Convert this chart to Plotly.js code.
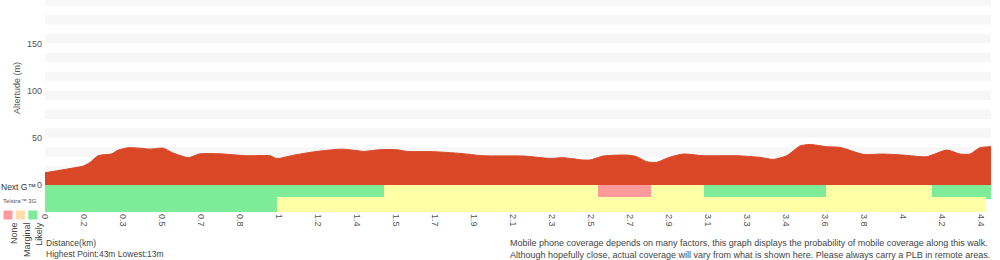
<!DOCTYPE html>
<html>
<head>
<meta charset="utf-8">
<script src="https://cdn.plot.ly/plotly-3.0.1.min.js"></script>
<style>
  html, body { margin: 0; padding: 0; background: #fff; }
  #chart { width: 1000px; height: 260px; }
</style>
</head>
<body>
<div id="chart"></div>
<script>
// ---------- data ----------
const distanceKm = [0.000, 0.055, 0.132, 0.179, 0.211, 0.249, 0.312, 0.343, 0.390, 0.445,
  0.491, 0.554, 0.593, 0.671, 0.725, 0.819, 0.944, 1.053, 1.084, 1.162,
  1.225, 1.287, 1.388, 1.466, 1.489, 1.568, 1.646, 1.693, 1.817, 1.942,
  2.051, 2.238, 2.363, 2.425, 2.519, 2.550, 2.613, 2.722, 2.769, 2.816,
  2.862, 2.917, 2.987, 3.080, 3.237, 3.346, 3.408, 3.471, 3.533, 3.580,
  3.658, 3.720, 3.829, 3.923, 4.016, 4.126, 4.220, 4.282, 4.329, 4.375, 4.427];
const altitudeM = [13, 15, 18, 20, 24, 31, 33, 37, 39.5, 39,
  38, 39, 34.5, 29, 33, 33, 31, 31, 28, 31.5,
  34, 36, 38, 36.3, 35.6, 37.4, 37.4, 35.6, 35.3, 33.5,
  31, 30.7, 28.2, 28.9, 26.5, 26.5, 30.7, 31.7, 30, 24.7,
  24, 29, 32.8, 31, 31, 29.3, 27.2, 31, 41.3, 43,
  40.6, 39.9, 32.5, 32.8, 31.7, 30, 37, 32.8, 32.8, 39.5, 40.6];

const xTickLabels = ['0', '0.2', '0.3', '0.5', '0.7', '0.8', '1', '1.2', '1.4', '1.5', '1.7', '1.9',
  '2.1', '2.3', '2.5', '2.7', '2.9', '3.1', '3.3', '3.4', '3.6', '3.8', '4', '4.2', '4.4'];
const yTickValues = [0, 50, 100, 150];

// coverage segments (km)
const nextGStart = [0.000, 1.586, 2.586, 2.836, 3.084, 3.655, 4.151];
const nextGEnd   = [1.586, 2.586, 2.836, 3.084, 3.655, 4.151, 4.427];
const nextGLevel = ['Likely', 'Marginal', 'None', 'Marginal', 'Likely', 'Marginal', 'Likely'];

const telstra3GStart = [0.000, 1.086];
const telstra3GEnd   = [1.086, 4.403];
const telstra3GLevel = ['Likely', 'Marginal'];

const legendLevels = ['None', 'Marginal', 'Likely'];

// ---------- styling ----------
const W = 1000, H = 260, L = 45, R = 9;
const plotW = W - L - R;
const px = x => (x - L) / plotW;   // pixel -> paper x
const py = y => (H - y) / H;       // pixel -> paper y
const levelColor = { Likely: '#7eeb98', Marginal: '#ffffa6', None: '#ff9a9a' };
const legendColor = { Likely: '#7eeb98', Marginal: '#ffdfa8', None: '#ff9a9a' };
const xMax = 4.427;
const tickStep = 0.1825;
const yTop = 196;
const font = 'Liberation Sans, Arial, Helvetica, sans-serif';

const profile = {
  type: 'scatter', mode: 'lines', x: distanceKm, y: altitudeM,
  xaxis: 'x', yaxis: 'y', fill: 'tozeroy',
  fillcolor: '#d94727', line: { color: '#d94727', width: 1, shape: 'spline', smoothing: 0.6 },
  hoverinfo: 'skip', showlegend: false
};

function coverageTrace(starts, ends, levels, center, height) {
  return {
    type: 'bar', orientation: 'h', xaxis: 'x', yaxis: 'y2',
    base: starts, x: ends.map((e, i) => e - starts[i]),
    y: starts.map(() => center), width: starts.map(() => height),
    marker: { color: levels.map(l => levelColor[l]), line: { width: 0 } },
    hoverinfo: 'skip', showlegend: false
  };
}
const nextG = coverageTrace(nextGStart, nextGEnd, nextGLevel, 20, 14);
const g3 = coverageTrace(telstra3GStart, telstra3GEnd, telstra3GLevel, 7.5, 15);

const shapes = [];
for (let b = 10; b < yTop; b += 20) {
  shapes.push({ type: 'rect', layer: 'below', xref: 'paper', yref: 'y',
    x0: 0, x1: 1, y0: b, y1: Math.min(b + 10, yTop), fillcolor: '#f7f7f7', line: { width: 0 } });
}
legendLevels.forEach((lv, i) => {
  const x0 = 3.5 + i * 12.4;
  shapes.push({ type: 'rect', xref: 'paper', yref: 'paper',
    x0: px(x0), x1: px(x0 + 9), y0: py(219.5), y1: py(210.5),
    fillcolor: legendColor[lv], line: { width: 0 } });
});

const grey = '#555';
const annotations = [
  { text: 'Altertude (m)', x: px(17), xanchor: 'center', y: py(88), textangle: -90, font: { size: 9, color: grey } },
  { text: 'Next G™', x: px(0), xanchor: 'left', y: py(192.5), font: { size: 8.5, color: '#333' } },
  { text: 'Telstra™ 3G', x: px(2), xanchor: 'left', y: py(205), font: { size: 6, color: grey } },
  ...legendLevels.map((lv, i) => ({ text: lv, x: px(8 + i * 12.4), y: py(221), yanchor: 'top',
    textangle: -90, font: { size: 9, color: '#444' } })),
  { text: 'Distance(km)<br>Highest Point:' + Math.round(Math.max(...altitudeM)) + 'm Lowest:' +
      Math.round(Math.min(...altitudeM)) + 'm',
    x: px(45), xanchor: 'left', y: py(237), yanchor: 'top', align: 'left',
    font: { size: 8.5, color: '#444' } },
  { text: 'Mobile phone coverage depends on many factors, this graph displays the probability of mobile coverage along this walk.<br>' +
      'Although hopefully close, actual coverage will vary from what is shown here. Please always carry a PLB in remote areas.',
    x: px(991), xanchor: 'right', y: py(237), yanchor: 'top', align: 'left',
    font: { size: 9, color: '#444' } }
].map(a => Object.assign({ xref: 'paper', yref: 'paper', showarrow: false, borderpad: 0 }, a));

const layout = {
  width: W, height: H,
  margin: { l: L, r: R, t: 0, b: 0, pad: 0 },
  paper_bgcolor: '#fff', plot_bgcolor: 'rgba(0,0,0,0)',
  font: { family: font, size: 9, color: grey },
  barmode: 'overlay', bargap: 0,
  showlegend: false,
  xaxis: {
    domain: [0, 1], range: [0, xMax], anchor: 'y2',
    tickvals: xTickLabels.map((_, i) => i * tickStep), ticktext: xTickLabels,
    tickangle: 90, ticks: '', showgrid: false, zeroline: false, showline: false,
    ticklabelstandoff: 1,
    tickfont: { size: 9, color: grey }, fixedrange: true
  },
  yaxis: {
    domain: [py(185), 1], range: [0, yTop], anchor: 'x',
    tickvals: yTickValues, ticks: '', showgrid: false, zeroline: false, showline: false,
    ticklabelstandoff: 2,
    tickfont: { size: 9, color: grey }, fixedrange: true
  },
  yaxis2: {
    domain: [py(212), py(185)], range: [0, 27], anchor: 'x',
    showticklabels: false, ticks: '', showgrid: false, zeroline: false, showline: false, fixedrange: true
  },
  shapes: shapes,
  annotations: annotations
};

Plotly.newPlot('chart', [profile, nextG, g3], layout, { displayModeBar: false, staticPlot: true });
</script>
</body>
</html>
